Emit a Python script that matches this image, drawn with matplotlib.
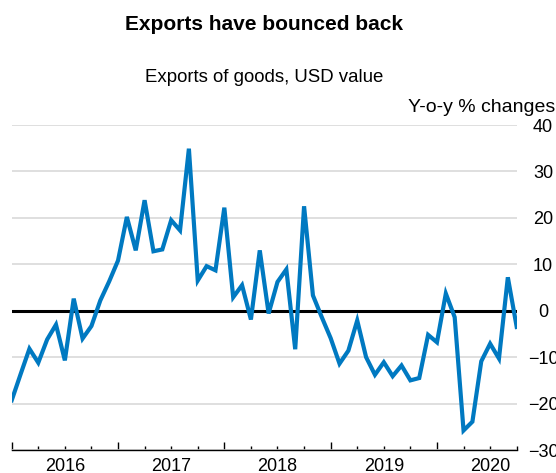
import matplotlib.pyplot as plt
import numpy as np

plt.rcParams['font.family'] = ['Liberation Sans', 'DejaVu Sans']

# Exports of goods, USD value, y-o-y % changes, monthly Jan 2016 - Oct 2020
years = ['2016', '2017', '2018', '2019', '2020']
exports_yoy = [
    -19.3, -13.7, -8.2, -11.2, -6.2, -3.0, -10.7, 2.6, -6.0, -3.3, 2.2, 6.3,      # 2016
    10.8, 20.2, 13.0, 23.8, 12.8, 13.2, 19.5, 17.3, 34.9, 6.5, 9.6, 8.7,          # 2017
    22.2, 2.9, 5.5, -1.9, 13.0, -0.6, 6.2, 8.9, -8.3, 22.5, 3.3, -1.4,            # 2018
    -5.9, -11.4, -8.6, -2.1, -10.0, -13.8, -11.1, -14.1, -11.8, -15.0, -14.5, -5.2,  # 2019
    -6.8, 3.7, -1.4, -25.8, -23.9, -10.9, -7.1, -10.3, 7.2, -3.5,                 # 2020
]
y_ticks = [-30, -20, -10, 0, 10, 20, 30, 40]

x = np.arange(len(exports_yoy))
n_last = len(exports_yoy) - 1

W, H = 556, 473
fig = plt.figure(figsize=(W / 100, H / 100), dpi=100)
ax = fig.add_axes([11.7 / W, 1 - 450 / H, 505 / W, 325 / H])

# 數據線
ax.plot(x, exports_yoy, color='#0079C1', linewidth=3.0, solid_joinstyle='miter', zorder=4)
ax.axhline(0, color='black', linewidth=2.2, zorder=3)

ax.set_xlim(0, n_last)
ax.set_ylim(-30, 40)

# y 軸在右邊
ax.set_yticks(y_ticks)
ax.yaxis.tick_right()
ax.tick_params(axis='y', length=0, pad=19, labelsize=13)
for lab in ax.get_yticklabels():
    lab.set_horizontalalignment('center')
ax.yaxis.grid(True, color='#d9d9d9', linewidth=1.2)
ax.set_axisbelow(True)

# x 軸: 年份刻度 + 季度刻度, 年份標籤放在年中
year_starts = list(range(0, n_last + 1, 12))
quarters = [q for q in range(0, n_last + 1, 3) if q % 12 != 0]
ax.set_xticks(year_starts)
ax.set_xticklabels([''] * len(year_starts))
ax.set_xticks(quarters, minor=True)
ax.set_xticklabels([years[q // 12] if q % 12 == 6 else '' for q in quarters], minor=True)
ax.tick_params(axis='x', which='major', direction='in', length=6, width=1, color='black')
ax.tick_params(axis='x', which='minor', direction='in', length=3, width=1, color='black',
               labelsize=13, pad=5.5)

for side in ['top', 'left', 'right']:
    ax.spines[side].set_visible(False)
ax.spines['bottom'].set_color('black')
ax.spines['bottom'].set_linewidth(1)

# 標題
fig.text(264 / W, 1 - 25 / H, 'Exports have bounced back', ha='center', va='center',
         fontsize=15, fontweight='bold')
fig.text(264 / W, 1 - 77 / H, 'Exports of goods, USD value', ha='center', va='center',
         fontsize=13.4)
fig.text(555 / W, 1 - 107 / H, 'Y-o-y % changes', ha='right', va='center', fontsize=14)

fig.savefig('out.png', dpi=100)
